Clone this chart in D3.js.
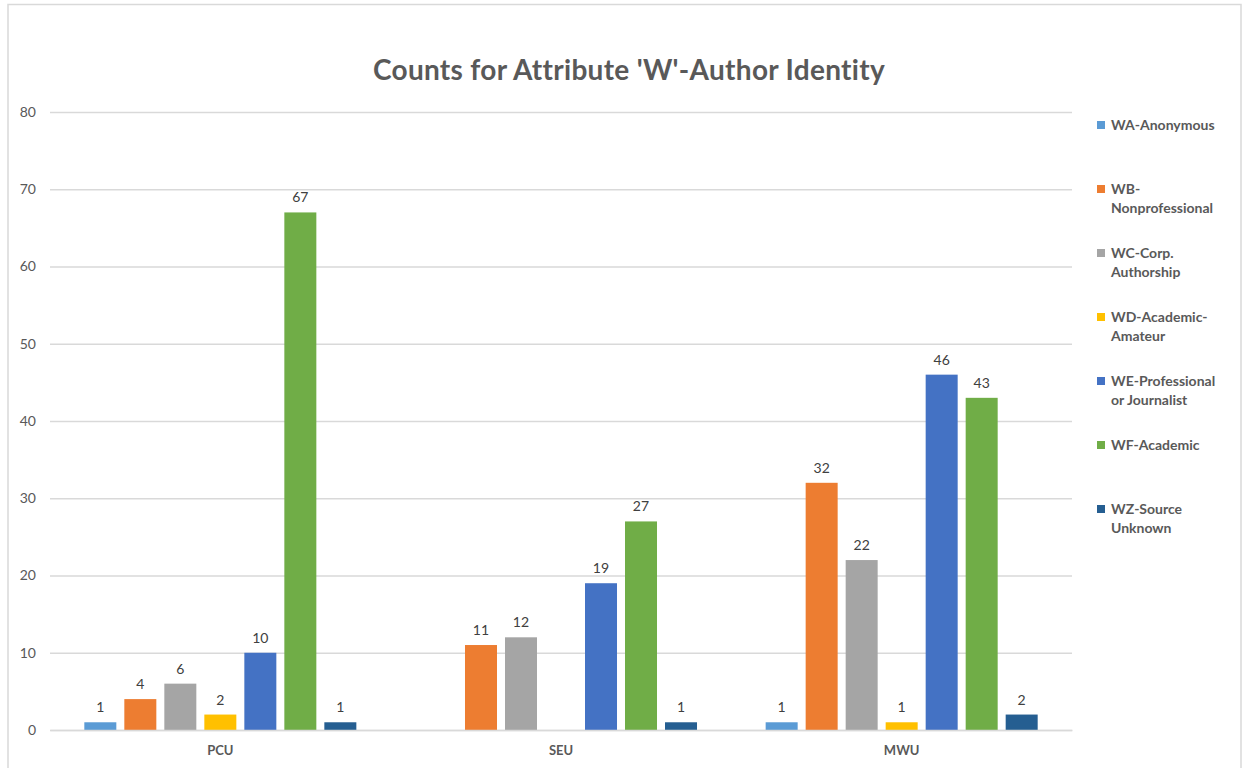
<!DOCTYPE html>
<html>
<head>
<meta charset="utf-8">
<script src="https://cdn.jsdelivr.net/npm/d3@7"></script>
<style>
  body { margin: 0; background: #fff; }
  svg { display: block; font-family: Lato, "Open Sans", sans-serif; }
</style>
</head>
<body>
<svg id="chart"></svg>
<script>
var screen = {width: 1244, height: 768}
var margins = {top: 112, right: 172, bottom: 38, left: 50}

// data
var categories = ["PCU", "SEU", "MWU"]
var seriesNames = ["WA-Anonymous", "WB-Nonprofessional", "WC-Corp. Authorship",
    "WD-Academic-Amateur", "WE-Professional or Journalist", "WF-Academic", "WZ-Source Unknown"]
var legendLines = [["WA-Anonymous"], ["WB-", "Nonprofessional"], ["WC-Corp.", "Authorship"],
    ["WD-Academic-", "Amateur"], ["WE-Professional", "or Journalist"], ["WF-Academic"], ["WZ-Source", "Unknown"]]
var seriesColors = ["#5B9BD5", "#ED7D31", "#A5A5A5", "#FFC000", "#4472C4", "#70AD47", "#255E91"]
var pcuValues = [1, 4, 6, 2, 10, 67, 1]
var seuValues = [null, 11, 12, null, 19, 27, 1]
var mwuValues = [1, 32, 22, 1, 46, 43, 2]
var yTicks = [0, 10, 20, 30, 40, 50, 60, 70, 80]

var allValues = [pcuValues, seuValues, mwuValues]

var svg = d3.select("#chart")
    .attr("width", screen.width)
    .attr("height", screen.height)

// chart frame
svg.append("rect")
    .attr("x", 8).attr("y", 4.5)
    .attr("width", 1233).attr("height", 800)
    .attr("fill", "#fff")
    .attr("stroke", "#d9d9d9")
    .attr("stroke-width", 1.5)

var width = 1072 - margins.left
var height = 730 - margins.top

var x0 = d3.scaleBand()
    .domain(categories)
    .range([margins.left, margins.left + width])
    .padding(0)

var x1 = d3.scaleBand()
    .domain(seriesNames)
    .range([0, x0.bandwidth()])
    .paddingInner(0.2)
    .paddingOuter(0.858)

var yScale = d3.scaleLinear()
    .domain([0, 80])
    .range([730, 112])

// gridlines + tick labels
var yAxis = d3.axisLeft(yScale)
    .tickValues(yTicks)
    .tickSize(-width)
    .tickPadding(14)

svg.append("g")
    .attr("id", "yAxis")
    .attr("transform", "translate(" + margins.left + ",0)")
    .call(yAxis)
    .call(function(g) {
        g.select(".domain").remove()
        g.selectAll(".tick line").attr("stroke", "#d9d9d9").attr("stroke-width", 1.3)
        g.selectAll(".tick text")
            .attr("fill", "#595959")
            .attr("font-size", "14px")
            .attr("font-family", "Lato, sans-serif")
    })

// bars
var groups = svg.append("g")
    .selectAll("g")
    .data(categories)
    .enter()
    .append("g")
    .attr("transform", function(c) { return "translate(" + x0(c) + ",0)" })

var cells = groups.selectAll("g.bar")
    .data(function(c, i) {
        return seriesNames.map(function(s, j) {
            return {series: s, value: allValues[i][j], color: seriesColors[j]}
        }).filter(function(d) { return d.value != null })
    })
    .enter()
    .append("g")
    .attr("class", "bar")

cells.append("rect")
    .attr("x", function(d) { return x1(d.series) })
    .attr("width", x1.bandwidth())
    .attr("y", function(d) { return yScale(d.value) })
    .attr("height", function(d) { return yScale(0) - yScale(d.value) })
    .attr("fill", function(d) { return d.color })

cells.append("text")
    .attr("x", function(d) { return x1(d.series) + x1.bandwidth() / 2 })
    .attr("y", function(d) { return yScale(d.value) - 10 })
    .attr("text-anchor", "middle")
    .attr("font-size", "14px")
    .attr("fill", "#404040")
    .text(function(d) { return d.value })

// category labels
var xAxis = d3.axisBottom(x0).tickSize(0).tickPadding(16)
svg.append("g")
    .attr("id", "xAxis")
    .attr("transform", "translate(0,730)")
    .call(xAxis)
    .call(function(g) {
        g.select(".domain").attr("stroke", "#d9d9d9").attr("stroke-width", 1.3)
        g.selectAll(".tick text")
            .attr("fill", "#595959")
            .attr("font-size", "13px")
            .attr("font-weight", "bold")
            .attr("font-family", "Lato, sans-serif")
    })

// title
svg.append("text")
    .attr("x", 629)
    .attr("y", 80)
    .attr("text-anchor", "middle")
    .attr("font-size", "28px")
    .attr("font-weight", "bold")
    .attr("letter-spacing", "0.3px")
    .attr("fill", "#595959")
    .text("Counts for Attribute 'W'-Author Identity")

// legend
var legend = svg.append("g")
    .selectAll("g")
    .data(seriesNames)
    .enter()
    .append("g")
    .attr("transform", function(s, i) { return "translate(1097," + (125 + i * 64) + ")" })

legend.append("rect")
    .attr("x", 0).attr("y", -4)
    .attr("width", 8).attr("height", 8)
    .attr("fill", function(s, i) { return seriesColors[i] })

legend.append("text")
    .attr("x", 14)
    .attr("y", 5)
    .attr("font-size", "14px")
    .attr("font-weight", "bold")
    .attr("fill", "#595959")
    .selectAll("tspan")
    .data(function(s, i) { return legendLines[i] })
    .enter()
    .append("tspan")
    .attr("x", 14)
    .attr("dy", function(l, k) { return k == 0 ? 0 : 19 })
    .text(function(l) { return l })
</script>
</body>
</html>
